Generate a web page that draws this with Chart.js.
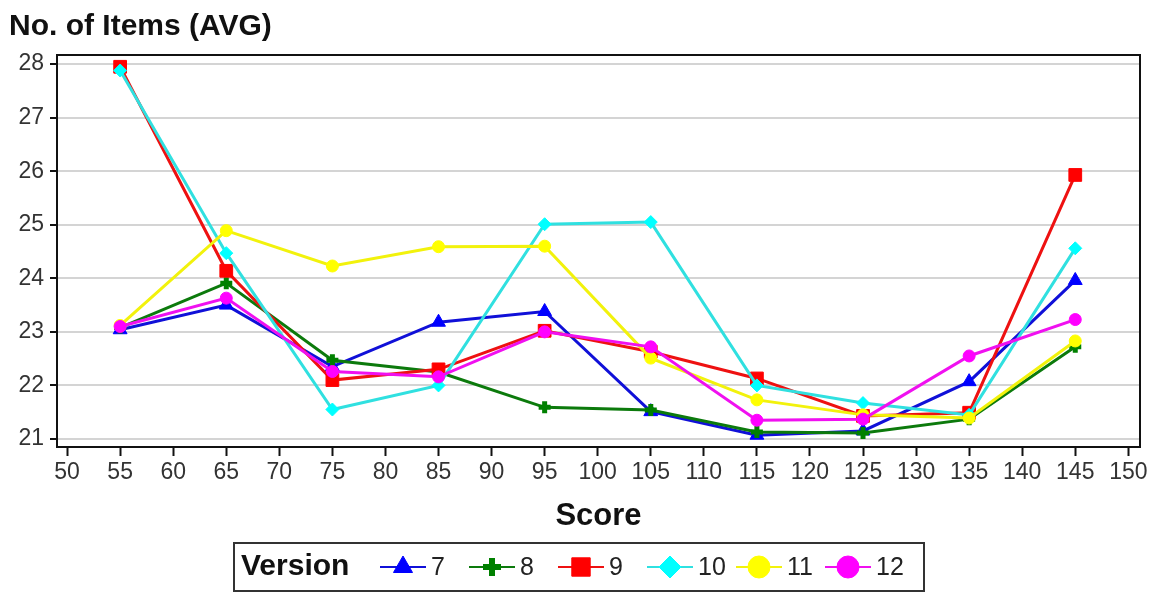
<!DOCTYPE html>
<html>
<head>
<meta charset="utf-8">
<script src="https://cdn.jsdelivr.net/npm/chart.js@4.4.1/dist/chart.umd.min.js"></script>
<style>
  html, body { margin: 0; padding: 0; background: #fff; }
  canvas { display: block; }
</style>
</head>
<body>
<canvas id="itemsChart" width="1151" height="592"></canvas>
<script>
'use strict';

// Data
const scores = [55, 65, 75, 85, 95, 105, 115, 125, 135, 145];
const versions = ['7', '8', '9', '10', '11', '12'];
const v7 = [23.04, 23.5, 22.35, 23.18, 23.38, 21.51, 21.07, 21.15, 22.07, 23.96];
const v8 = [23.08, 23.91, 22.47, 22.25, 21.59, 21.54, 21.13, 21.11, 21.37, 22.72];
const v9 = [27.95, 24.14, 22.1, 22.3, 23.02, 22.63, 22.13, 21.43, 21.49, 25.93];
const v10 = [27.88, 24.47, 21.55, 22.0, 25.01, 25.05, 22.0, 21.67, 21.45, 24.56];
const v11 = [23.12, 24.89, 24.23, 24.59, 24.6, 22.51, 21.73, 21.45, 21.39, 22.83];
const v12 = [23.1, 23.63, 22.26, 22.16, 23.0, 22.72, 21.35, 21.37, 22.55, 23.23];
const xTicks = [50, 55, 60, 65, 70, 75, 80, 85, 90, 95, 100, 105, 110, 115, 120, 125, 130, 135, 140, 145, 150];
const yTicks = [21, 22, 23, 24, 25, 26, 27, 28];

const seriesValues = [v7, v8, v9, v10, v11, v12];

// Styles
const lineColors = ['#1010d8', '#0c7a0c', '#ee1111', '#30e0e0', '#f2f20c', '#f010f0'];
const markColors = ['#0000ff', '#008000', '#ff0000', '#00ffff', '#ffff00', '#ff00ff'];
const markStyles = ['triangle', 'cross', 'rect', 'rectRot', 'circle', 'circle'];
const markRadius = [8, 6, 9, 6.5, 6, 6];

const tickFont = { family: "'Liberation Sans Narrow', 'Arial Narrow', Arial, sans-serif", size: 23 };

const datasets = seriesValues.map(function (vals, i) {
  const isCross = markStyles[i] === 'cross';
  return {
    label: versions[i],
    data: scores.map(function (s, j) { return { x: s, y: vals[j] }; }),
    borderColor: lineColors[i],
    borderWidth: 3,
    backgroundColor: markColors[i],
    pointStyle: markStyles[i],
    pointRadius: markRadius[i],
    pointBorderColor: markColors[i],
    pointBorderWidth: isCross ? 5 : 1,
    pointBackgroundColor: markColors[i],
    tension: 0,
    order: 5 - i
  };
});

// Frame, titles and the inline legend
const decorations = {
  id: 'decorations',
  beforeDatasetsDraw(chart) {
    const ctx = chart.ctx;
    const a = chart.chartArea;
    ctx.save();
    ctx.strokeStyle = '#111';
    ctx.lineWidth = 2;
    ctx.strokeRect(a.left, a.top, a.right - a.left, a.bottom - a.top);
    ctx.restore();
  },
  afterDraw(chart) {
    const ctx = chart.ctx;
    const a = chart.chartArea;
    ctx.save();
    ctx.fillStyle = '#111';
    ctx.textBaseline = 'middle';

    // y title (top left)
    ctx.font = 'bold 30px Arial, sans-serif';
    ctx.textAlign = 'left';
    ctx.fillText('No. of Items (AVG)', 9, 27);

    // x title
    ctx.font = 'bold 31px Arial, sans-serif';
    ctx.textAlign = 'center';
    ctx.fillText('Score', (a.left + a.right) / 2, 516);

    // legend box
    ctx.strokeStyle = '#333';
    ctx.lineWidth = 2;
    ctx.strokeRect(234, 543, 690, 48);
    const ly = 567;
    ctx.font = 'bold 30px Arial, sans-serif';
    ctx.textAlign = 'left';
    ctx.fillText('Version', 241, ly);

    ctx.font = '25px ' + tickFont.family;
    versions.forEach(function (v, i) {
      const x0 = 380 + i * 89;
      const x1 = x0 + 46;
      ctx.strokeStyle = lineColors[i];
      ctx.lineWidth = 2;
      ctx.beginPath();
      ctx.moveTo(x0, ly);
      ctx.lineTo(x1, ly);
      ctx.stroke();
      ctx.fillStyle = markColors[i];
      ctx.strokeStyle = markColors[i];
      const st = markStyles[i];
      ctx.lineWidth = st === 'cross' ? 6 : 1;
      Chart.helpers.drawPoint(ctx, {
        pointStyle: st,
        radius: st === 'rect' ? 13 : st === 'cross' ? 9 : 11,
        rotation: 0,
        borderWidth: ctx.lineWidth
      }, (x0 + x1) / 2, ly);
      ctx.fillStyle = '#222';
      ctx.fillText(v, x1 + 5, ly + 1);
    });
    ctx.restore();
  }
};

new Chart(document.getElementById('itemsChart'), {
  type: 'line',
  data: { datasets: datasets },
  options: {
    responsive: false,
    devicePixelRatio: 1,
    animation: false,
    layout: { padding: { top: 55, right: 11, bottom: 0, left: 0 } },
    plugins: {
      legend: { display: false },
      title: { display: false },
      tooltip: { enabled: false }
    },
    scales: {
      x: {
        type: 'linear',
        min: 49.05,
        max: 151.1,
        afterBuildTicks: function (scale) {
          scale.ticks = xTicks.map(function (v) { return { value: v }; });
        },
        afterFit: function (scale) { scale.height = 145; },
        grid: {
          drawOnChartArea: false,
          drawTicks: true,
          tickLength: 9,
          tickColor: '#111',
          tickWidth: 2
        },
        border: { display: true, color: '#111', width: 2 },
        ticks: {
          color: '#333',
          font: tickFont,
          padding: 3,
          maxRotation: 0,
          autoSkip: false
        }
      },
      y: {
        type: 'linear',
        min: 20.85,
        max: 28.17,
        afterBuildTicks: function (scale) {
          scale.ticks = yTicks.map(function (v) { return { value: v }; });
        },
        afterFit: function (scale) { scale.width = 57; },
        grid: {
          color: '#d4d4d4',
          lineWidth: 2,
          drawTicks: true,
          tickLength: 7,
          tickColor: '#111',
          tickWidth: 2
        },
        border: { display: true, color: '#111', width: 2 },
        ticks: {
          color: '#333',
          font: tickFont,
          padding: 6
        }
      }
    }
  },
  plugins: [decorations]
});
</script>
</body>
</html>
